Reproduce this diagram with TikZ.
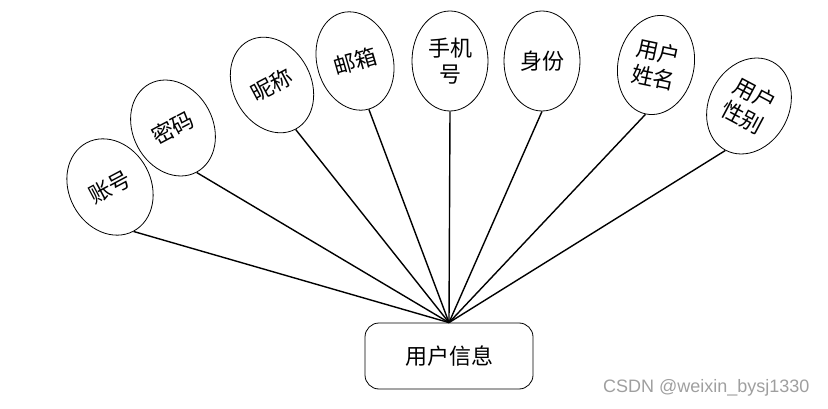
\documentclass[tikz,border=0pt]{standalone}
\usepackage{fontspec}
\setmainfont{Liberation Sans}
\newfontfamily\cjk{Noto Sans CJK SC}
\usetikzlibrary{shapes.geometric}
\begin{document}
\begin{tikzpicture}[x=1pt,y=-1pt,
  attr/.style={ellipse,draw,line width=0.8pt,inner sep=0pt,minimum width=76pt,minimum height=100pt,align=center,font=\cjk\fontsize{22}{26}\selectfont},
  link/.style={line width=1.4pt},
  entity/.style={draw,line width=0.8pt,rounded corners=14pt,minimum width=168pt,minimum height=66pt,font=\cjk\fontsize{22}{26}\selectfont}]
\useasboundingbox (0,0) rectangle (828,409);
\node[entity] (e) at (449,356) {用户信息};
\node[attr,minimum width=82pt,rotate=28] (a1) at (110,187) {账号};
\node[attr,minimum width=80pt,rotate=28] (a2) at (173,128) {密码};
\node[attr,minimum width=78pt,rotate=28] (a3) at (272,85) {昵称};
\node[attr,rotate=16] (a4) at (355,61) {邮箱};
\node[attr] (a5) at (450,61) {手机\\号};
\node[attr] (a6) at (542,61) {身份};
\node[attr,rotate=-12] (a7) at (656,65) {用户\\姓名};
\node[attr,minimum width=80pt,rotate=-28] (a8) at (749,106) {用户\\性别};
\coordinate (hub) at (e.north);
\foreach \i in {1,...,8} \draw[link] (hub) -- (a\i.south);
\node[text=gray!75,font=\fontsize{18}{20}\selectfont,anchor=east] (wm) at (813,388) {CSDN @weixin\_bysj1330};
\end{tikzpicture}
\end{document}
